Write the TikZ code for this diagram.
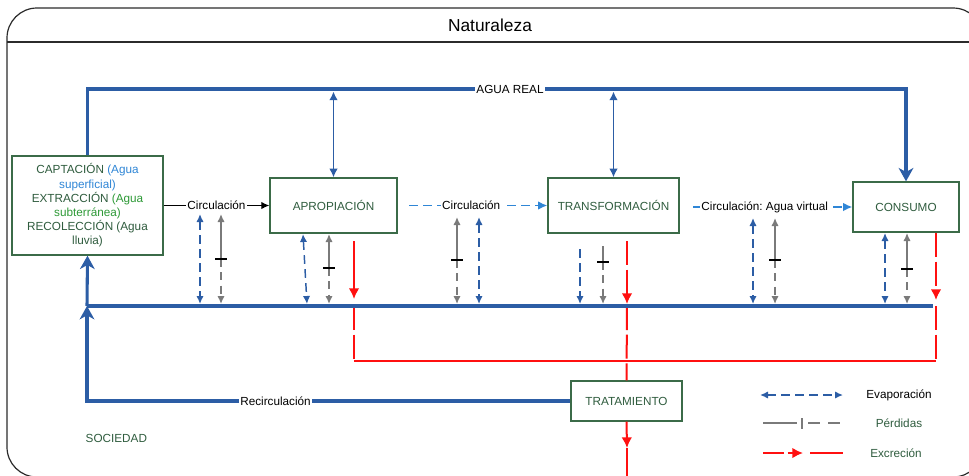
\documentclass[tikz,border=0pt]{standalone}
\usepackage{fontspec}
\setmainfont{Liberation Sans}
\usetikzlibrary{arrows.meta}

\definecolor{frameline}{HTML}{2B2B2B}
\definecolor{boxgreen}{HTML}{3B6B48}
\definecolor{txtgreen}{HTML}{2F5C3E}
\definecolor{wblue}{HTML}{2C5DA5}
\definecolor{lblue}{HTML}{2F86D6}
\definecolor{brgreen}{HTML}{2E9A37}
\definecolor{lossgray}{HTML}{7A7A7A}
\definecolor{exred}{HTML}{FF1010}

% grey loss arrow: solid upper part, cross tick, dashed lower part
\newcommand{\lossline}[4]{%
  \draw[loss,#1] (#2) -- (#3);
  \draw[loss,lossdash,-{Latex[length=6pt,width=5.5pt]}] (#3) -- (#4);
  \draw[tickmark] ([xshift=-4.5pt]#3) -- ([xshift=4.5pt]#3);}

\frenchspacing
\begin{document}
\begin{tikzpicture}[x=0.75pt,y=-0.75pt,
  font=\fontsize{8.8}{10.65}\selectfont,
  stage/.style={draw=boxgreen,line width=1pt,fill=white,text=txtgreen,
    inner sep=0pt,align=center},
  lbl/.style={fill=white,inner sep=1pt,text=black},
  realthick/.style={draw=wblue,line width=2.3pt},
  bigtip/.style={-{Stealth[length=10pt,width=11pt,inset=3pt]}},
  realthin/.style={draw=wblue,line width=1.3pt,
    {Latex[length=6.5pt,width=6.5pt]}-{Latex[length=6.5pt,width=6.5pt]}},
  evap/.style={draw=wblue,line width=1.1pt,dash pattern=on 6.5pt off 4pt},
  evboth/.style={evap,{Latex[length=6pt,width=5.5pt]}-{Latex[length=6pt,width=5.5pt]}},
  evdown/.style={evap,-{Latex[length=6pt,width=5.5pt]}},
  loss/.style={draw=lossgray,line width=1.1pt},
  losstop/.style={{Latex[length=6pt,width=5.5pt]}-},
  lossdash/.style={dash pattern=on 6pt off 4pt},
  tickmark/.style={draw=black,line width=0.8pt},
  excr/.style={draw=exred,line width=1.5pt},
  excrdash/.style={excr,dash pattern=on 18pt off 3.5pt},
  excrtip/.style={-{Latex[length=8pt,width=8pt]}},
  circ/.style={draw=black,line width=0.8pt,-{Latex[length=6pt,width=5.5pt]}},
  circdash/.style={draw=lblue,line width=1.1pt,dash pattern=on 6.5pt off 4pt,
    -{Latex[length=7pt,width=6.5pt]}},
]
\useasboundingbox (0,0) rectangle (969,475);
\clip (0,0) rectangle (969,475);

% outer frame with its title band
\draw[frameline,line width=0.9pt,rounded corners=22.5pt] (7,8) rectangle (983,477);
\draw[frameline,line width=0.9pt] (7,42) -- (983,42);
\node[font=\fontsize{13}{15}\selectfont] (nat) at (490,25) {Naturaleza};
\node[text=txtgreen,anchor=west] (soc) at (81,438) {SOCIEDAD};

% stages
\node[stage,minimum width=151*0.75pt,minimum height=99*0.75pt] (capt) at (87.5,205.5)
  {CAPTACIÓN \textcolor{lblue}{(Agua}\\ \textcolor{lblue}{superficial)}\\
   EXTRACCIÓN \textcolor{brgreen}{(Agua}\\ \textcolor{brgreen}{subterránea)}\\
   RECOLECCIÓN (Agua\\ lluvia)};
\node[stage,minimum width=127*0.75pt,minimum height=55*0.75pt] (apro) at (333.5,205.5) {APROPIACIÓN};
\node[stage,minimum width=131*0.75pt,minimum height=55*0.75pt] (transf) at (613.5,205.5) {TRANSFORMACIÓN};
\node[stage,minimum width=106*0.75pt,minimum height=50*0.75pt] (cons) at (906,207) {CONSUMO};
\node[stage,minimum width=111*0.75pt,minimum height=40*0.75pt] (trat) at (626.5,401) {TRATAMIENTO};

% anchor points
\coordinate (mL) at (87,306);   \coordinate (mR) at (933,306);
\coordinate (rcC) at (87,401);  \coordinate (arT) at (510,89);
\coordinate (apT) at (333.5,91.5); \coordinate (trT) at (613.5,91.5);
\coordinate (eAt) at (200,214); \coordinate (eAb) at (200,304);
\coordinate (lAt) at (221,214); \coordinate (lAk) at (221,259); \coordinate (lAb) at (221,304);
\coordinate (eBt) at (303,234); \coordinate (eBb) at (307,304);
\coordinate (lBt) at (329,234); \coordinate (lBk) at (329,268); \coordinate (lBb) at (329,304);
\coordinate (lCt) at (457,217); \coordinate (lCk) at (457,260); \coordinate (lCb) at (457,304);
\coordinate (eCt) at (479,217); \coordinate (eCb) at (479,304);
\coordinate (eDt) at (580,249); \coordinate (eDb) at (580,304);
\coordinate (lDt) at (603,246); \coordinate (lDk) at (603,262); \coordinate (lDb) at (603,304);
\coordinate (eEt) at (753,218); \coordinate (eEb) at (753,304);
\coordinate (lEt) at (775,218); \coordinate (lEk) at (775,260); \coordinate (lEb) at (775,304);
\coordinate (eFt) at (885,233); \coordinate (eFb) at (885,304);
\coordinate (lFt) at (907,233); \coordinate (lFk) at (907,269); \coordinate (lFb) at (907,304);
\coordinate (rBt) at (354,241); \coordinate (rBa) at (354,299);
\coordinate (rBs) at (354,306); \coordinate (rBj) at (354,361);
\coordinate (rDt) at (627,241); \coordinate (rDa) at (627,304); \coordinate (rDs) at (627,306);
\coordinate (rFt) at (936,233); \coordinate (rFa) at (936,300);
\coordinate (rFs) at (936,306); \coordinate (rFj) at (936,361);
\coordinate (tB) at (627,448);  \coordinate (tE) at (627,477);
\coordinate (c2s) at (409,205.5); \coordinate (c3s) at (693,207);

% excretion network
\draw[exred,line width=0.8pt] (rBj) -- (rFj);
\draw[excrdash] (rBs) -- (rBj);
\draw[excrdash] (rFs) -- (rFj);
\draw[excrdash] (rDs) -- (trat.north);
\draw[excr,excrtip] (rBt) -- (rBa);
\draw[excrdash,excrtip] (rDt) -- (rDa);
\draw[excrdash,excrtip] (rFt) -- (rFa);
\draw[excr,excrtip] (trat.south) -- (tB);
\draw[excr] (tB) -- (tE);

% real water flows
\draw[realthick] (mL) -- (mR);
\draw[realthick,bigtip] (trat.west) -- node[lbl,pos=0.61] (recirc) {Recirculación} (rcC) -- (mL);
\draw[realthick,bigtip] (mL) -- (capt.south);
\draw[realthick,bigtip] (capt.north) |- (arT) -| (cons.north);
\node[lbl] (agua) at (arT) {AGUA REAL};
\draw[realthin] (apT) -- (apro.north);
\draw[realthin] (trT) -- (transf.north);

% evaporation
\draw[evboth] (eAt) -- (eAb);
\draw[evboth] (eBt) -- (eBb);
\draw[evboth] (eCt) -- (eCb);
\draw[evdown] (eDt) -- (eDb);
\draw[evboth] (eEt) -- (eEb);
\draw[evboth] (eFt) -- (eFb);

% losses
\lossline{losstop}{lAt}{lAk}{lAb}
\lossline{losstop}{lBt}{lBk}{lBb}
\lossline{losstop}{lCt}{lCk}{lCb}
\lossline{}{lDt}{lDk}{lDb}
\lossline{losstop}{lEt}{lEk}{lEb}
\lossline{losstop}{lFt}{lFk}{lFb}

% circulation between stages
\draw[circ] (capt.east) -- node[lbl] (circA) {Circulación} (apro.west);
\draw[circdash] (c2s) -- node[lbl,pos=0.45] (circB) {Circulación} (transf.west);
\draw[circdash] (c3s) -- node[lbl,pos=0.45] (circC) {Circulación: Agua virtual} (cons.west);

% legend
\coordinate (lgE1) at (760,395); \coordinate (lgE2) at (843,395);
\draw[evboth] (lgE1) -- (lgE2);
\node (lgEt) at (899,395) {Evaporación};
\coordinate (lgP1) at (763,423); \coordinate (lgP2) at (797,423);
\coordinate (lgP3) at (802,418); \coordinate (lgP4) at (802,429);
\coordinate (lgP5) at (808,423); \coordinate (lgP6) at (841,423);
\draw[loss] (lgP1) -- (lgP2);
\draw[loss] (lgP3) -- (lgP4);
\draw[loss,dash pattern=on 9pt off 6pt] (lgP5) -- (lgP6);
\node[text=txtgreen] (lgPt) at (899,423) {Pérdidas};
\coordinate (lgX1) at (763,453); \coordinate (lgX2) at (803,453);
\coordinate (lgX3) at (810,453); \coordinate (lgX4) at (843,453);
\draw[excr,dash pattern=on 16pt off 2.5pt,excrtip] (lgX1) -- (lgX2);
\draw[excr] (lgX3) -- (lgX4);
\node[text=txtgreen] (lgXt) at (896,453) {Excreción};
\end{tikzpicture}
\end{document}
